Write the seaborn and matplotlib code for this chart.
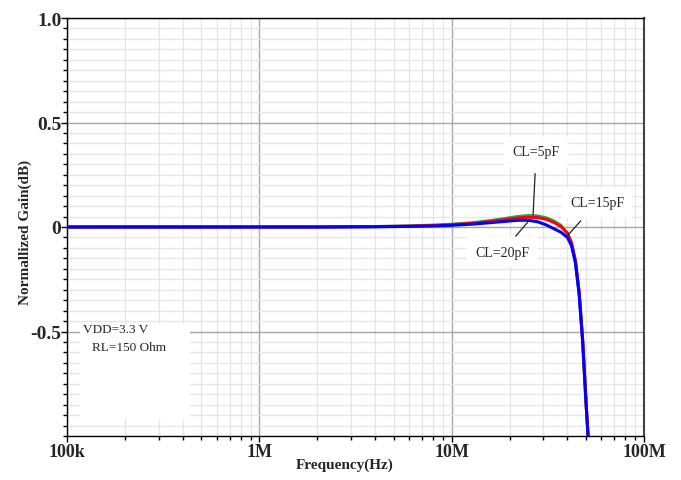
import numpy as np
import pandas as pd
import matplotlib
matplotlib.use("Agg")
import matplotlib.pyplot as plt
from matplotlib.patches import Rectangle
from matplotlib.ticker import FixedLocator, LogLocator, NullFormatter, FixedFormatter, MultipleLocator
import seaborn as sns

freq_hz = [1e5, 1e6, 2e6, 4e6, 6e6, 8e6, 10e6, 13e6, 16e6, 19e6, 22e6, 25e6,
           28e6, 31e6, 34e6, 37e6, 40e6, 42e6, 44e6, 46e6, 48e6, 50e6, 52e6]
gain_cl5 = [0, 0, 0, 0.002, 0.005, 0.009, 0.013, 0.021, 0.031, 0.041, 0.050, 0.055,
            0.053, 0.044, 0.029, 0.008, -0.030, -0.080, -0.170, -0.320, -0.550, -0.850, -1.100]
gain_cl15 = [0, 0, 0, 0.002, 0.004, 0.007, 0.011, 0.018, 0.027, 0.036, 0.043, 0.047,
             0.045, 0.037, 0.022, 0.002, -0.030, -0.075, -0.160, -0.310, -0.540, -0.840, -1.100]
gain_cl20 = [0, 0, 0, 0.001, 0.003, 0.005, 0.008, 0.014, 0.021, 0.027, 0.032, 0.032,
             0.025, 0.010, -0.008, -0.025, -0.050, -0.090, -0.170, -0.320, -0.550, -0.850, -1.100]
series_names = ["CL=5pF", "CL=15pF", "CL=20pF"]
series_colors = ["#1fae5a", "#ff0000", "#0000ff"]

x_ticks = [1e5, 1e6, 1e7, 1e8]
x_ticklabels = ["100k", "1M", "10M", "100M"]
y_ticks = [-0.5, 0, 0.5, 1.0]
y_ticklabels = ["-0.5", "0", "0.5", "1.0"]

df = pd.concat([
    pd.DataFrame({"freq": freq_hz, "gain": g, "series": n})
    for n, g in zip(series_names, [gain_cl5, gain_cl15, gain_cl20])
])

sns.set_theme(style="white")
plt.rcParams["font.family"] = ["Liberation Serif", "DejaVu Serif"]

fig = plt.figure(figsize=(6.81, 4.81), dpi=100)
ax = fig.add_axes([67/681, 1-437/481, (644-67)/681, (437-19)/481])

sns.lineplot(data=df, x="freq", y="gain", hue="series", hue_order=series_names,
             palette=dict(zip(series_names, series_colors)), linewidth=2.2,
             ax=ax, legend=False, zorder=4, sort=False)

ax.set_xscale("log")
ax.set_xlim(1e5, 1e8)
ax.set_ylim(-1.0, 1.0)

ax.xaxis.set_major_locator(FixedLocator(x_ticks))
ax.xaxis.set_major_formatter(FixedFormatter(x_ticklabels))
ax.xaxis.set_minor_locator(LogLocator(base=10, subs=np.arange(2, 10)))
ax.xaxis.set_minor_formatter(NullFormatter())
ax.yaxis.set_major_locator(FixedLocator(y_ticks))
ax.yaxis.set_major_formatter(FixedFormatter(y_ticklabels))
ax.yaxis.set_minor_locator(MultipleLocator(0.05))

ax.grid(which="major", color="#a6a6a6", linewidth=1.0, zorder=1)
ax.grid(which="minor", color="#e6e6e6", linewidth=1.0, zorder=0)
ax.set_axisbelow(True)

for s in ["left", "bottom", "top"]:
    ax.spines[s].set_color("black")
    ax.spines[s].set_linewidth(1.0)
ax.spines["right"].set_color("#444444")
ax.spines["right"].set_linewidth(1.5)

ax.tick_params(axis="both", which="major", direction="out", length=4, width=1,
               color="black", pad=0, bottom=True, left=True)
ax.tick_params(axis="y", which="major", labelsize=14)
ax.tick_params(axis="x", which="major", labelsize=13, pad=1)
ax.tick_params(axis="both", which="minor", direction="out", length=3, width=1,
               color="black", bottom=True, left=True)
for lab in ax.get_xticklabels() + ax.get_yticklabels():
    lab.set_fontweight("bold")

ax.set_xlabel("Frequency(Hz)", fontsize=11, fontweight="bold")
ax.xaxis.set_label_coords(0.482, -0.052)
ax.set_ylabel("Normallized Gain(dB)", fontsize=11, fontweight="bold")
ax.yaxis.set_label_coords(-0.06, 0.49)

# condition box
ax.add_patch(Rectangle((0.0225, 0.041), 0.19, 0.227, transform=ax.transAxes,
                       facecolor="white", edgecolor="none", zorder=2))
ax.text(0.028, 0.255, "VDD=3.3 V", transform=ax.transAxes, fontsize=9.5,
        va="center", ha="left", zorder=3)
ax.text(0.044, 0.213, "RL=150 Ohm", transform=ax.transAxes, fontsize=9.5,
        va="center", ha="left", zorder=3)

bbox = dict(facecolor="white", edgecolor="none", pad=6)
ax.annotate("CL=5pF", xy=(26.5e6, 0.057), xytext=(27.5e6, 0.36),
            fontsize=10, ha="center", va="center", bbox=bbox, zorder=5,
            arrowprops=dict(arrowstyle="-", color="#222222", lw=0.9,
                            shrinkA=5, shrinkB=0))
ax.annotate("CL=15pF", xy=(40.3e6, -0.038), xytext=(57e6, 0.115),
            fontsize=10, ha="center", va="center", bbox=bbox, zorder=5,
            arrowprops=dict(arrowstyle="-", color="#222222", lw=0.9,
                            shrinkA=3, shrinkB=0))
ax.annotate("CL=20pF", xy=(24.9e6, 0.024), xytext=(18.3e6, -0.12),
            fontsize=10, ha="center", va="center", bbox=bbox, zorder=5,
            arrowprops=dict(arrowstyle="-", color="#222222", lw=0.9,
                            shrinkA=1, shrinkB=0))

fig.savefig("out.png", dpi=100, facecolor="white")
